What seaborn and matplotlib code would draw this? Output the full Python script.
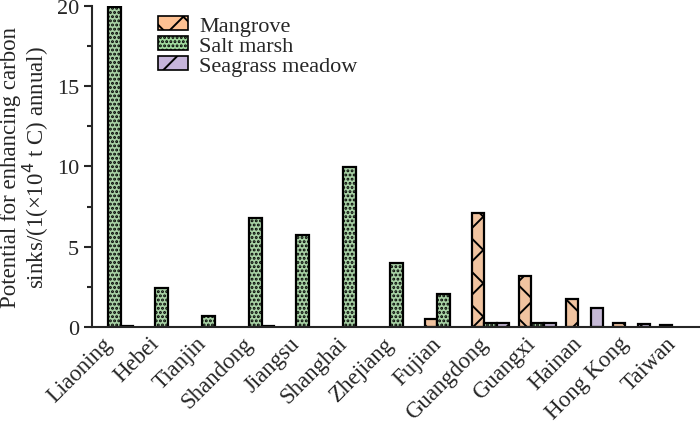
import numpy as np
import pandas as pd
import matplotlib
matplotlib.use("Agg")
import matplotlib.pyplot as plt
from matplotlib.patches import Patch
from matplotlib.ticker import MultipleLocator
from matplotlib.transforms import ScaledTranslation
import seaborn as sns

# provinces along the coast, north to south
provinces = ["Liaoning", "Hebei", "Tianjin", "Shandong", "Jiangsu", "Shanghai",
             "Zhejiang", "Fujian", "Guangdong", "Guangxi", "Hainan", "Hong Kong", "Taiwan"]
habitats = ["Mangrove", "Salt marsh", "Seagrass meadow"]

# values (1e4 t C per year), nan = no bar
mangrove = [np.nan, np.nan, np.nan, np.nan, np.nan, np.nan,
            np.nan, 0.48, 7.1, 3.2, 1.74, 0.22, 0.15]
salt_marsh = [19.9, 2.41, 0.70, 6.77, 5.75, 9.95,
              3.97, 2.06, 0.24, 0.27, np.nan, np.nan, np.nan]
seagrass = [0.04, np.nan, np.nan, 0.08, np.nan, np.nan,
            np.nan, np.nan, 0.22, 0.22, 1.18, 0.18, np.nan]

colours = ["#fdc193", "#a1d99e", "#c6b4db"]
hatches = ["x", "....", "/"]

sns.set_style("ticks")
plt.rcParams["font.family"] = ["Liberation Serif", "DejaVu Serif"]
plt.rcParams["hatch.linewidth"] = 1.4
plt.rcParams["hatch.color"] = "black"

df = pd.DataFrame({
    "Province": provinces * 3,
    "Habitat": [h for h in habitats for _ in provinces],
    "Value": mangrove + salt_marsh + seagrass,
})

fig = plt.figure(figsize=(7, 4.27), dpi=100)
ax = fig.add_axes([0.131, 0.232, 0.869, 0.752])

sns.barplot(data=df, x="Province", y="Value", hue="Habitat",
            hue_order=habitats, order=provinces, palette=colours,
            width=0.8, edgecolor="black", linewidth=1.6,
            errorbar=None, ax=ax, legend=False)

for cont, hatch in zip(ax.containers, hatches):
    for bar in cont:
        bar.set_hatch(hatch)

ax.set_xlim(-0.48, 12.46)
ax.set_ylim(0, 20)
ax.yaxis.set_major_locator(MultipleLocator(5))
ax.yaxis.set_minor_locator(MultipleLocator(2.5))
ax.tick_params(axis="y", which="major", length=6, width=1.5, direction="out",
               labelsize=16, pad=3)
ax.tick_params(axis="y", which="minor", length=3.5, width=1.5, direction="out")
ax.tick_params(axis="x", length=0, labelsize=16.5, pad=4)
shift = ScaledTranslation(-13 / 100, 0, fig.dpi_scale_trans)
for lab in ax.get_xticklabels():
    lab.set_rotation(45)
    lab.set_ha("right")
    lab.set_rotation_mode("anchor")
    lab.set_transform(lab.get_transform() + shift)

ax.set_xlabel("")
ax.set_ylabel("Potential for enhancing carbon\nsinks/(1(\u00d710$^4$ t C) annual)",
              fontsize=16.5, labelpad=4, linespacing=1.0)

sns.despine(ax=ax)
for s in ["left", "bottom"]:
    ax.spines[s].set_linewidth(1.5)

handles = [Patch(facecolor=c, edgecolor="black", hatch=h, linewidth=1.2, label=l)
           for c, h, l in zip(colours, hatches, habitats)]
ax.legend(handles=handles, loc="upper left", bbox_to_anchor=(0.087, 1.01),
          frameon=False, fontsize=16, handlelength=1.35, handleheight=0.6,
          labelspacing=0.0, handletextpad=0.5, borderaxespad=0.2)

fig.savefig("out.png", dpi=100)
